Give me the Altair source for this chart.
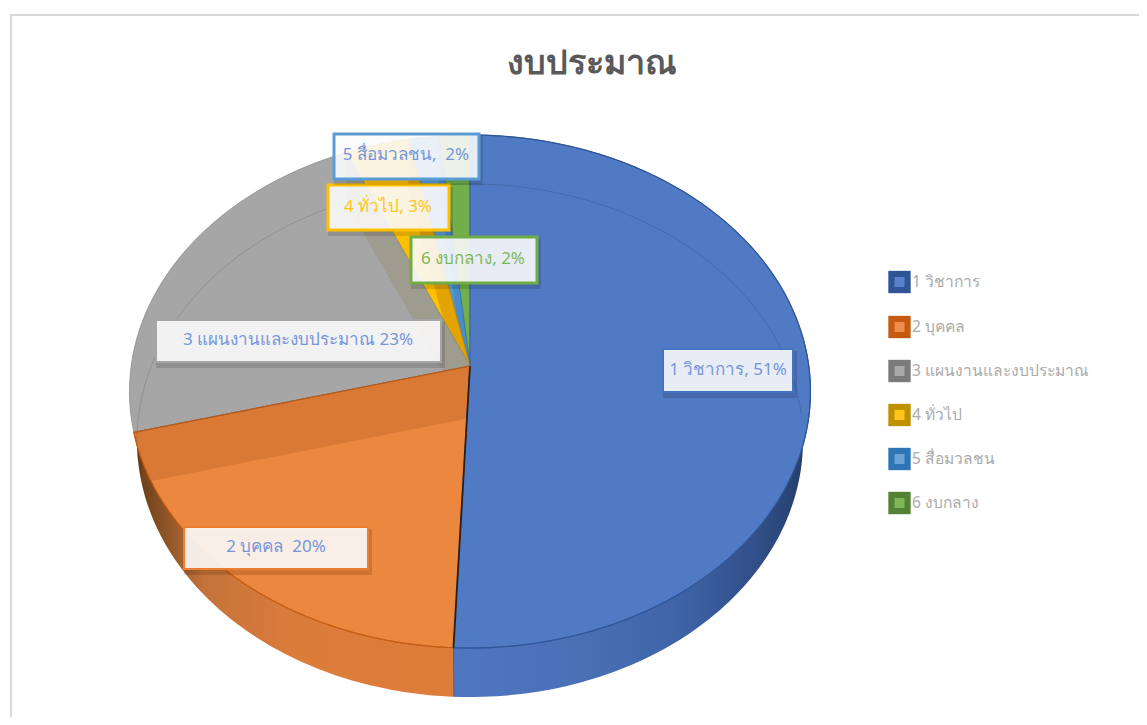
import math
import altair as alt
import pandas as pd

# ---- values
categories = ["1 วิชาการ", "2 บุคคล", "3 แผนงานและงบประมาณ", "4 ทั่วไป", "5 สื่อมวลชน", "6 งบกลาง"]
values = [50.7, 20.2, 22.6, 3.3, 1.6, 1.6]
slice_labels = ["1 วิชาการ, 51%", "2 บุคคล\u00a0\u00a020%", "3 แผนงานและงบประมาณ 23%", "4 ทั่วไป, 3%", "5 สื่อมวลชน,\u00a0\u00a02%", "6 งบกลาง, 2%"]
title_text = "งบประมาณ"

top_colors = ["#507ac4", "#ec873f", "#a6a6a6", "#ffc000", "#5b9bd5", "#72ae4a"]
edge_colors = ["#2f5597", "#c55a11", "#8a8a8a", "#bf9000", "#2e75b6", "#548235"]
legend_outer = ["#2f5597", "#c55a11", "#7b7b7b", "#bf9000", "#2e75b6", "#548235"]
legend_inner = ["#5a82cc", "#ee8c4a", "#a9a9a9", "#ffc61a", "#69a3d9", "#7fb65a"]
box_strokes = ["#4472c4", "#ed7d31", "#a5a5a5", "#ffc000", "#5b9bd5", "#70ad47"]
text_colors = ["#7595da", "#7595da", "#7595da", "#ffc61a", "#7595da", "#7fb65a"]
box_widths = [2, 2, 2, 3, 3, 3]

# ---- layout (page pixels)
W, H = 1131, 709
CX, AY = 470.0, 366.0
K = 0.0994
RXP, RYP = 338.8, 254.0
DEPTH = 49.0
SHRINK = 0.978

box_x = [663, 184, 156, 328, 334, 411]
box_x2 = [793, 368, 441, 449, 479, 537]
box_y = [349, 527, 320, 185, 134, 237]
box_y2 = [392, 569, 362, 230, 179, 283]
text_x = [728, 276, 298, 388, 406, 473]
text_y = [370, 547, 340, 207, 155, 259]
legend_y = [282, 327, 371, 415, 459, 503]

xs = alt.Scale(domain=[8, 8 + W], nice=False, zero=False)
ys = alt.Scale(domain=[8 + H, 8], nice=False, zero=False)


def proj(u, v):
    w = 1 - K * v
    return CX + RXP * u / w, AY + RYP * v / w


def rim(t):
    return proj(math.sin(t), -math.cos(t))


def arc(a, b, n=90):
    return [rim(a + (b - a) * i / n) for i in range(n + 1)]


def lower(p):
    return (CX + (p[0] - CX) * SHRINK, p[1] + DEPTH)


def shape(points, fill=None, stroke=None, sw=0.0, opacity=1.0, close=True):
    pts = list(points) + ([points[0]] if close else [])
    df = pd.DataFrame({"x": [p[0] for p in pts], "y": [p[1] for p in pts], "i": list(range(len(pts)))})
    kw = {"strokeWidth": sw, "clip": True, "interpolate": "linear"}
    kw["stroke"] = stroke if stroke else "transparent"
    if fill is not None:
        kw["fill"] = fill
    if opacity < 1:
        kw["opacity"] = opacity
    return alt.Chart(df).mark_line(**kw).encode(
        x=alt.X("x:Q", scale=xs, axis=None),
        y=alt.Y("y:Q", scale=ys, axis=None),
        order=alt.Order("i:Q"),
    )


def grad(stops):
    return {
        "gradient": "linear", "x1": 0, "x2": 1, "y1": 0, "y2": 0,
        "stops": [{"offset": o, "color": c} for o, c in stops],
    }


total = sum(values)
edges = [0.0]
for val in values:
    edges.append(edges[-1] + val / total * 2 * math.pi)

layers = []

# chart frame
frame = pd.DataFrame({"x": [11, 11, 8 + W], "y": [8 + H, 15, 15], "i": [0, 1, 2]})
layers.append(alt.Chart(frame).mark_line(stroke="#d9d9d9", strokeWidth=2, clip=True).encode(
    x=alt.X("x:Q", scale=xs, axis=None), y=alt.Y("y:Q", scale=ys, axis=None), order="i:Q"))


def wall(a, b, a2, b2, fill):
    top = arc(a, b)
    bottom = [lower(p) for p in reversed(arc(a2, b2))]
    return shape(top + bottom, fill=fill)


# outer walls, front half only
left = math.radians(268)
right = math.radians(82)
layers.append(wall(right, edges[1], right, edges[1],
                   grad([(0, "#4f77c0"), (0.35, "#4a70b6"), (0.62, "#3f64a8"), (0.85, "#314f88"), (1, "#243c69")])))
layers.append(wall(edges[1], edges[2], edges[1], left,
                   grad([(0, "#5d3a18"), (0.06, "#7d4a20"), (0.22, "#c4733a"), (0.5, "#dc7c3b"), (1, "#de7d3a")])))


def band(i):
    """Side wall of slice i seen through its top face, below its closing edge."""
    e = edges[i + 1]
    r = rim(e)
    low_r = (r[0], r[1] + DEPTH + 3)
    end = (CX, AY + DEPTH + 3)
    if i == 1:
        # the lowered orange edge runs out of the disc at its left end
        tl = math.radians(249.5)
        t = (rim(tl)[0] - end[0]) / (low_r[0] - end[0])
        last = (rim(tl)[0], end[1] + (low_r[1] - end[1]) * t)
        return [(CX, AY)] + arc(e, tl, 30) + [last, end]
    return [(CX, AY), r, low_r, end]


# top faces: the later slices first, so each lowered edge falls beneath the next
order = [5, 4, 3, 2, 1, 0]
for i in order:
    pts = [(CX, AY)] + arc(edges[i], edges[i + 1])
    layers.append(shape(pts, fill=top_colors[i], stroke=edge_colors[i], sw=0.8))
    if i in (1, 2, 3, 4):
        tint = {1: "#9c4a10", 2: "#8f8a60", 3: "#c08000", 4: "#2e75b6"}[i]
        layers.append(shape(band(i), fill=tint, opacity={1: 0.22, 2: 0.33, 3: 0.45, 4: 0.4}[i]))

# back rim lowered by the depth, seen through the top face
layers.append(shape([lower(p) for p in arc(math.radians(-100), math.radians(90))],
                    stroke="#000000", sw=1, opacity=0.13, close=False))

# outer rim and the dark cut between blue and orange
for a, b, c in ((right, edges[1], "#2f5597"), (edges[1], edges[2], "#c55a11"), (0.0, right, "#2f5597")):
    layers.append(shape(arc(a, b), stroke=c, sw=1.2, close=False))
layers.append(shape([(CX, AY), rim(edges[1])], stroke="#2a2018", sw=1.8, close=False))
layers.append(shape([(CX, AY), rim(edges[2])], stroke="#b05a1c", sw=1.2, close=False))
layers.append(shape([rim(edges[1]), lower(rim(edges[1]))], stroke="#4a5f85", sw=1, close=False))

# data labels
boxes = pd.DataFrame({
    "x": box_x, "x2": box_x2, "y": box_y, "y2": box_y2,
    "tx": text_x, "ty": text_y, "label": slice_labels,
})
for k in range(len(boxes)):
    row = boxes.iloc[[k]].copy()
    for grow, op in ((8, 0.025), (6, 0.03), (4, 0.035), (2, 0.04)):
        row["sx"] = row["x"] + 2 - grow
        row["sx2"] = row["x2"] + 2 + grow
        row["sy"] = row["y"] + 4 - grow
        row["sy2"] = row["y2"] + 4 + grow
        layers.append(alt.Chart(row).mark_rect(fill="#000000", opacity=op).encode(
            x=alt.X("sx:Q", scale=xs, axis=None), x2="sx2:Q",
            y=alt.Y("sy:Q", scale=ys, axis=None), y2="sy2:Q"))
    layers.append(alt.Chart(row).mark_rect(fill="#ffffff", fillOpacity=0.88,
                                           stroke=box_strokes[k], strokeWidth=box_widths[k]).encode(
        x=alt.X("x:Q", scale=xs, axis=None), x2="x2:Q",
        y=alt.Y("y:Q", scale=ys, axis=None), y2="y2:Q"))
    layers.append(alt.Chart(row).mark_text(font="Noto Sans", fontSize=17, color=text_colors[k],
                                           align="center", baseline="middle").encode(
        x=alt.X("tx:Q", scale=xs, axis=None), y=alt.Y("ty:Q", scale=ys, axis=None), text="label:N"))

# legend
leg = pd.DataFrame({"cat": categories, "y": legend_y, "outer": legend_outer, "inner": legend_inner,
                    "x": [899.5] * 6, "tx": [912] * 6})
layers.append(alt.Chart(leg).mark_point(shape="square", filled=True, size=500, opacity=1).encode(
    x=alt.X("x:Q", scale=xs, axis=None), y=alt.Y("y:Q", scale=ys, axis=None),
    fill=alt.Fill("outer:N", scale=None)))
layers.append(alt.Chart(leg).mark_point(shape="square", filled=True, size=100, opacity=1).encode(
    x=alt.X("x:Q", scale=xs, axis=None), y=alt.Y("y:Q", scale=ys, axis=None),
    fill=alt.Fill("inner:N", scale=None)))
layers.append(alt.Chart(leg).mark_text(font="Noto Sans", fontSize=15.6, color="#ababab", align="left",
                                       baseline="middle").encode(
    x=alt.X("tx:Q", scale=xs, axis=None), y=alt.Y("y:Q", scale=ys, axis=None), text="cat:N"))

# title
tt = pd.DataFrame({"x": [592], "y": [64], "t": [title_text]})
layers.append(alt.Chart(tt).mark_text(font="Noto Sans", fontSize=34, fontWeight="bold", color="#595959",
                                      align="center", baseline="middle").encode(
    x=alt.X("x:Q", scale=xs, axis=None), y=alt.Y("y:Q", scale=ys, axis=None), text="t:N"))

chart = alt.layer(*layers).properties(
    width=W, height=H, padding=0, autosize=alt.AutoSizeParams(type="none"),
).configure_view(stroke=None)

chart.save("out.html", embed_options={"renderer": "svg", "actions": False})
